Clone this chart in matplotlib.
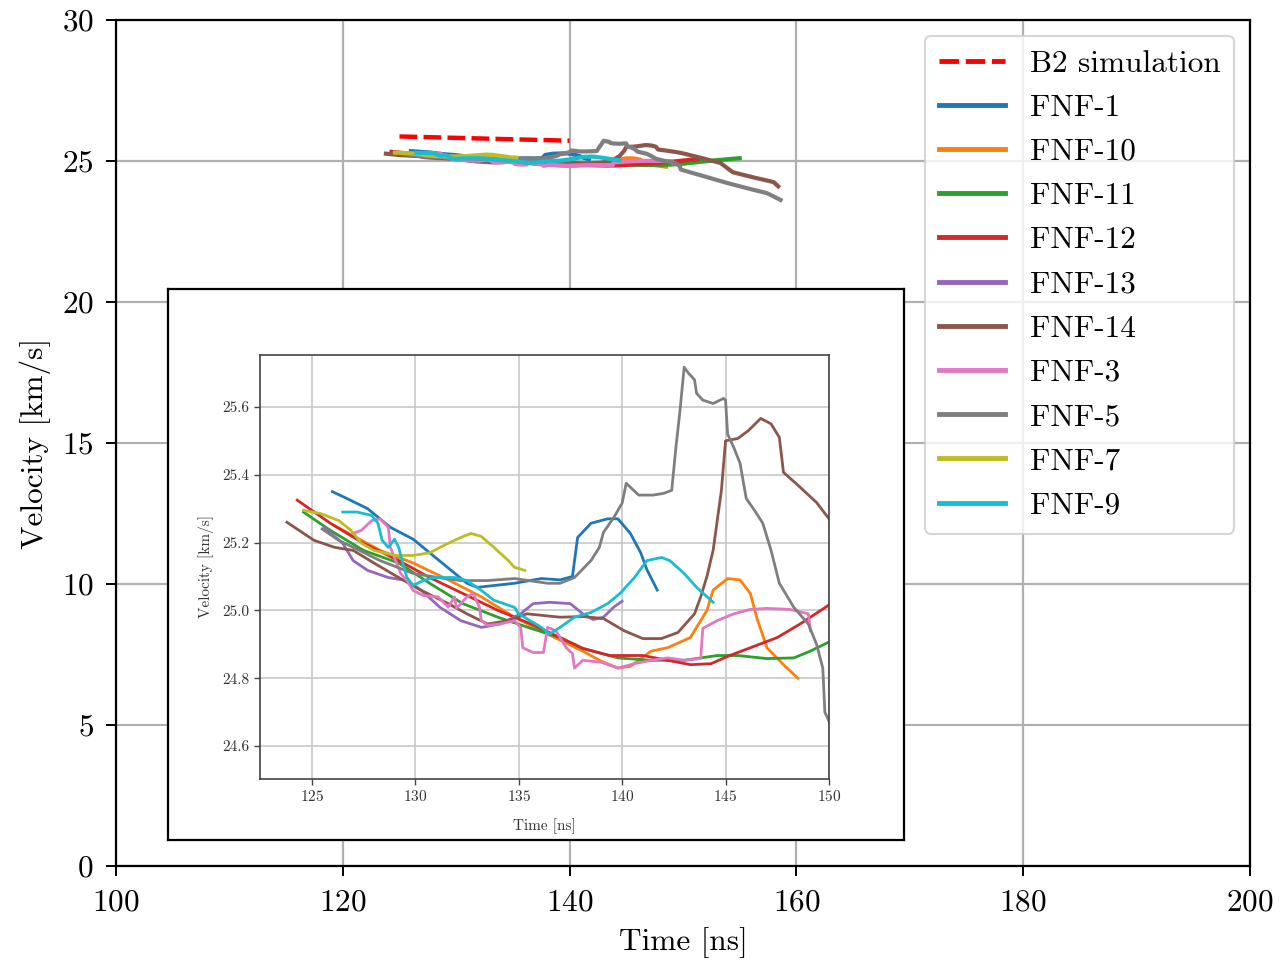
import matplotlib
matplotlib.use("Agg")
import matplotlib.pyplot as plt

plt.rcParams['font.family'] = ['cmr10', 'DejaVu Serif']
plt.rcParams['axes.formatter.use_mathtext'] = True

# ---------------- data ----------------
b2_x = [125.0, 140.0]
b2_y = [25.87, 25.72]

fnf1_x = [126.0, 126.7, 127.7, 128.8, 129.9, 130.9, 131.9, 132.5, 133.0, 134.8, 136.1, 137.0, 137.6, 137.85, 138.5, 139.3, 139.8, 140.4, 140.9, 141.2, 141.7]
fnf1_y = [25.35, 25.33, 25.30, 25.245, 25.21, 25.16, 25.11, 25.08, 25.068, 25.08, 25.094, 25.09, 25.10, 25.215, 25.257, 25.27, 25.27, 25.227, 25.17, 25.12, 25.06]

fnf10_x = [126.1, 128.3, 129.9, 131.6, 133.2, 134.8, 136.4, 138.1, 139.0, 139.8, 140.4, 141.4, 142.2, 143.3, 144.1, 144.4, 145.1, 145.7, 146.2, 146.5, 147.0, 147.8, 148.5]
fnf10_y = [25.25, 25.177, 25.14, 25.09, 25.04, 24.98, 24.93, 24.88, 24.85, 24.83, 24.835, 24.88, 24.89, 24.92, 25.0, 25.06, 25.094, 25.09, 25.05, 24.98, 24.89, 24.84, 24.80]

fnf11_x = [124.6, 125.9, 127.5, 129.2, 130.7, 132.3, 134.0, 135.6, 137.0, 138.1, 139.8, 141.4, 143.0, 144.6, 145.6, 147.0, 148.3, 149.1, 150.1, 151.5, 153.0, 155.0]
fnf11_y = [25.29, 25.236, 25.177, 25.14, 25.08, 25.02, 24.98, 24.947, 24.92, 24.888, 24.86, 24.853, 24.853, 24.867, 24.867, 24.858, 24.86, 24.88, 24.91, 24.97, 25.03, 25.10]

fnf12_x = [124.3, 125.9, 127.5, 129.2, 130.7, 132.3, 134.0, 135.6, 137.0, 138.1, 139.4, 141.0, 142.2, 143.3, 144.3, 145.2, 146.2, 147.5, 148.6, 150.1, 151.3]
fnf12_y = [25.325, 25.257, 25.198, 25.147, 25.097, 25.05, 25.0, 24.96, 24.92, 24.888, 24.867, 24.867, 24.853, 24.84, 24.843, 24.867, 24.89, 24.92, 24.96, 25.02, 25.07]

fnf13_x = [125.6, 126.5, 127.0, 127.7, 128.7, 129.6, 130.3, 131.2, 132.2, 133.2, 134.1, 135.1, 135.7, 136.5, 137.5, 138.1, 138.6, 139.1, 139.6, 140.0]
fnf13_y = [25.245, 25.198, 25.147, 25.118, 25.097, 25.088, 25.059, 25.009, 24.97, 24.95, 24.96, 24.99, 25.02, 25.024, 25.02, 24.99, 24.973, 24.98, 25.01, 25.027]

fnf14_x = [123.8, 125.1, 126.1, 127.0, 128.0, 129.2, 130.3, 131.6, 132.5, 133.5, 134.5, 135.4, 137.0, 138.1, 139.1, 140.1, 141.0, 141.9, 142.7, 143.5, 143.8, 144.1, 144.4, 144.8, 145.0, 145.6, 146.1, 146.7, 147.2, 147.6, 147.8, 148.5, 149.4, 150.0, 151.5, 153.3, 154.4, 156.2, 157.7, 158.0, 158.4]
fnf14_y = [25.26, 25.207, 25.186, 25.177, 25.14, 25.097, 25.059, 25.02, 24.99, 24.96, 24.97, 24.99, 24.98, 24.982, 24.976, 24.94, 24.917, 24.917, 24.935, 24.99, 25.04, 25.10, 25.177, 25.354, 25.50, 25.507, 25.53, 25.566, 25.55, 25.51, 25.407, 25.369, 25.318, 25.27, 25.12, 24.93, 24.6, 24.42, 24.28, 24.25, 24.10]

fnf3_x = [127.0, 127.4, 127.9, 128.3, 128.7, 128.8, 129.1, 129.3, 129.6, 129.9, 130.4, 131.1, 131.6, 131.9, 132.0, 132.5, 132.8, 133.1, 133.2, 133.5, 134.1, 134.8, 135.1, 135.2, 135.7, 136.2, 136.4, 136.8, 137.3, 137.6, 137.7, 138.1, 139.0, 139.8, 140.6, 141.4, 142.2, 143.0, 143.8, 143.9, 144.6, 145.4, 146.2, 147.0, 148.1, 149.0, 149.1]
fnf3_y = [25.227, 25.236, 25.265, 25.27, 25.245, 25.186, 25.14, 25.109, 25.088, 25.059, 25.044, 25.04, 25.01, 25.04, 25.006, 25.04, 25.05, 25.01, 24.97, 24.956, 24.96, 24.97, 24.95, 24.89, 24.876, 24.876, 24.95, 24.94, 24.89, 24.873, 24.83, 24.853, 24.847, 24.83, 24.843, 24.853, 24.86, 24.853, 24.858, 24.947, 24.97, 24.99, 25.003, 25.006, 25.003, 24.99, 24.94]

fnf5_x = [125.5, 126.3, 128.3, 129.9, 131.1, 132.2, 133.5, 134.8, 136.4, 137.0, 137.7, 138.5, 138.9, 139.1, 139.6, 140.0, 140.2, 140.3, 140.8, 141.5, 142.0, 142.4, 142.6, 142.8, 143.0, 143.2, 143.5, 143.6, 143.9, 144.4, 144.9, 145.0, 145.1, 145.4, 145.7, 146.0, 146.4, 146.8, 147.2, 147.6, 148.3, 149.0, 149.4, 149.7, 149.8, 150.1, 151.5, 153.9, 155.6, 157.4, 158.6]
fnf5_y = [25.24, 25.207, 25.147, 25.109, 25.097, 25.088, 25.088, 25.094, 25.08, 25.08, 25.097, 25.147, 25.186, 25.23, 25.274, 25.316, 25.375, 25.369, 25.34, 25.34, 25.345, 25.354, 25.48, 25.59, 25.717, 25.70, 25.68, 25.64, 25.62, 25.61, 25.625, 25.62, 25.52, 25.48, 25.434, 25.33, 25.295, 25.257, 25.177, 25.08, 25.009, 24.96, 24.90, 24.83, 24.70, 24.66, 24.50, 24.22, 24.04, 23.86, 23.62]

fnf7_x = [124.6, 125.4, 126.3, 126.9, 127.4, 128.0, 129.0, 129.9, 130.7, 131.6, 132.2, 132.7, 133.2, 133.8, 134.5, 134.8, 135.3]
fnf7_y = [25.295, 25.286, 25.265, 25.236, 25.198, 25.177, 25.162, 25.162, 25.17, 25.198, 25.215, 25.227, 25.218, 25.186, 25.147, 25.127, 25.118]

fnf9_x = [126.5, 127.2, 127.9, 128.2, 128.4, 128.7, 129.0, 129.2, 129.4, 129.6, 129.9, 130.4, 130.9, 131.9, 132.5, 133.2, 133.8, 134.8, 135.0, 136.1, 136.5, 137.0, 137.7, 138.5, 139.3, 139.9, 140.6, 141.2, 141.9, 142.3, 143.0, 143.6, 144.4]
fnf9_y = [25.29, 25.29, 25.28, 25.257, 25.207, 25.186, 25.21, 25.186, 25.14, 25.097, 25.074, 25.088, 25.097, 25.097, 25.088, 25.059, 25.03, 25.009, 24.99, 24.95, 24.93, 24.95, 24.98, 24.994, 25.02, 25.05, 25.097, 25.147, 25.156, 25.147, 25.109, 25.068, 25.024]

labels = ['FNF-1', 'FNF-10', 'FNF-11', 'FNF-12', 'FNF-13', 'FNF-14', 'FNF-3', 'FNF-5', 'FNF-7', 'FNF-9']
xs = [fnf1_x, fnf10_x, fnf11_x, fnf12_x, fnf13_x, fnf14_x, fnf3_x, fnf5_x, fnf7_x, fnf9_x]
ys = [fnf1_y, fnf10_y, fnf11_y, fnf12_y, fnf13_y, fnf14_y, fnf3_y, fnf5_y, fnf7_y, fnf9_y]
colors = ['#1f77b4', '#ff7f0e', '#2ca02c', '#d62728', '#9467bd', '#8c564b', '#e377c2', '#7f7f7f', '#bcbd22', '#17becf']

main_xticks = [100, 120, 140, 160, 180, 200]
main_yticks = [0, 5, 10, 15, 20, 25, 30]
inset_xticks = [125, 130, 135, 140, 145, 150]
inset_yticks = [24.6, 24.8, 25.0, 25.2, 25.4, 25.6]

# ---------------- figure ----------------
fig = plt.figure(figsize=(12.81, 9.66), dpi=100)
W, H = 1281, 966

def rect(l, t, r, b):
    return [l / W, 1 - b / H, (r - l) / W, (b - t) / H]

FS = 22.5
ax = fig.add_axes(rect(116, 20, 1250, 866))
ax.plot(b2_x, b2_y, color='#ff0000', ls=(0, (4.0, 1.4)), lw=3.2, label='B2 simulation', zorder=3)
for x, y, c, lab in zip(xs, ys, colors, labels):
    ax.plot(x, y, color=c, lw=3.0, label=lab, zorder=3)
ax.set_xlim(100, 200)
ax.set_ylim(0, 30)
ax.set_xticks(main_xticks)
ax.set_yticks(main_yticks)
ax.grid(True, color='#b0b0b0', lw=1.6)
ax.set_axisbelow(True)
ax.tick_params(labelsize=FS, length=7.5, width=1.4, pad=8.5)
for s in ax.spines.values():
    s.set_linewidth(1.6)
ax.set_xlabel('Time [ns]', fontsize=FS, labelpad=8)
ax.set_ylabel('Velocity [km/s]', fontsize=FS, labelpad=8)
leg = ax.legend(loc='upper right', fontsize=FS, handlelength=2.1, labelspacing=0.52,
                borderpad=0.45, handletextpad=0.8, framealpha=0.8, edgecolor='#cccccc',
                borderaxespad=0.5)
leg.get_frame().set_linewidth(1.5)
for h in leg.get_lines():
    h.set_linewidth(3.5)

# inset frame (picture box)
frame = fig.add_axes(rect(168, 289, 904, 840))
frame.set_xticks([])
frame.set_yticks([])
frame.set_facecolor('white')
for s in frame.spines.values():
    s.set_color('black')
    s.set_linewidth(1.6)
frame.set_zorder(5)

# inset plot
IFS = 11
ins = fig.add_axes(rect(260, 355, 829, 779))
ins.set_zorder(6)
for x, y, c in zip(xs, ys, colors):
    ins.plot(x, y, color=c, lw=2.0)
ins.set_xlim(122.5, 150)
ins.set_ylim(24.503, 25.753)
ins.set_xticks(inset_xticks)
ins.set_yticks(inset_yticks)
ins.set_yticklabels([f'{v:.1f}' for v in inset_yticks])
ins.grid(True, color='#c8c8c8', lw=1.2)
ins.set_axisbelow(True)
ins.tick_params(labelsize=IFS, length=4, width=1.0, colors='#444444', labelcolor='#333333')
for s in ins.spines.values():
    s.set_color('#444444')
    s.set_linewidth(1.2)
ins.set_xlabel('Time [ns]', fontsize=IFS, color='#333333', labelpad=10)
ins.set_ylabel('Velocity [km/s]', fontsize=IFS, color='#333333', labelpad=6)

fig.savefig('out.png', dpi=100)
